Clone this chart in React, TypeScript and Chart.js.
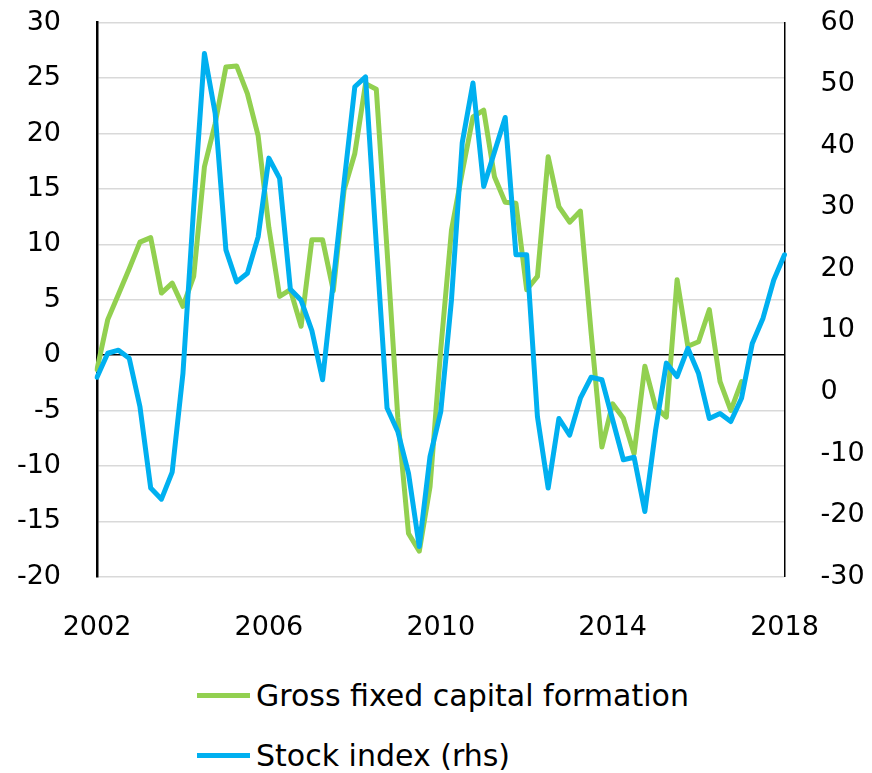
import React, { useEffect, useRef } from "react";
import { Chart, registerables } from "chart.js";

Chart.register(...registerables);

const startYear = 2002;
const quarterCount = 65;
const xTickYears = ["2002", "2006", "2010", "2014", "2018"];

const gfcf = [
  -1.3, 3.2, 5.5, 7.8, 10.2, 10.6, 5.6, 6.5, 4.4, 7.1,
  17.0, 20.9, 26.0, 26.1, 23.6, 19.8, 11.5, 5.3, 5.9, 2.6,
  10.4, 10.4, 5.8, 14.9, 18.2, 24.5, 24.0, 9.5, -5.6, -16.1,
  -17.7, -11.9, 0.5, 11.3, 16.5, 21.5, 22.1, 16.1, 13.8, 13.7,
  5.9, 7.1, 17.9, 13.4, 12.0, 13.0, 2.0, -8.3, -4.4, -5.7,
  -8.9, -1.0, -4.7, -5.6, 6.8, 0.8, 1.2, 4.1, -2.4, -5.0,
  -2.4,
];

const stockIndex = [
  2.4, 6.3, 6.8, 5.5, -2.4, -15.6, -17.4, -13.0, 3, 30,
  55.0, 45.3, 23.1, 17.9, 19.3, 25.2, 38.0, 34.7, 16.7, 14.9,
  10, 2.0, 18, 34, 49.6, 51.2, 24, -2.6, -6.4, -13.2,
  -25.1, -10.5, -3.2, 15.0, 40.5, 50.2, 33.4, 39, 44.6, 22.3,
  22.3, -4.0, -15.6, -4.3, -7.0, -1.0, 2.4, 2.0, -4.5, -11.0,
  -10.6, -19.4, -6.2, 4.7, 2.5, 7.1, 3.0, -4.3, -3.5, -4.8,
  -1.0, 7.9, 12.0, 18.2, 22.3,
];

const seriesNames = ["Gross fixed capital formation", "Stock index (rhs)"];
const seriesColors = ["#92D050", "#00B0F0"];

const categories: string[] = [];
for (let i = 0; i < quarterCount; i++) {
  categories.push(`${startYear + Math.floor(i / 4)}Q${(i % 4) + 1}`);
}

const FONT = "'DejaVu Sans', 'Liberation Sans', Arial, sans-serif";
const W = 872;
const CH = 660;
const PLOT_LEFT = 97;
const PLOT_RIGHT = 784.5;
const PLOT_TOP = 22.7;
const PLOT_BOTTOM = 576.7;

export default function App() {
  const ref = useRef<HTMLCanvasElement | null>(null);

  useEffect(() => {
    if (!ref.current) return;
    const chart = new Chart(ref.current, {
      type: "line",
      data: {
        labels: categories,
        datasets: [
          {
            label: seriesNames[0],
            data: gfcf,
            borderColor: seriesColors[0],
            backgroundColor: seriesColors[0],
            borderWidth: 5,
            pointRadius: 0,
            tension: 0,
            fill: false,
            yAxisID: "y",
            order: 2,
            borderJoinStyle: "round",
            borderCapStyle: "round",
          },
          {
            label: seriesNames[1],
            data: stockIndex,
            borderColor: seriesColors[1],
            backgroundColor: seriesColors[1],
            borderWidth: 5,
            pointRadius: 0,
            tension: 0,
            fill: false,
            yAxisID: "y1",
            order: 1,
            borderJoinStyle: "round",
            borderCapStyle: "round",
          },
        ],
      },
      options: {
        responsive: false,
        animation: false,
        devicePixelRatio: 1,
        layout: { padding: { top: PLOT_TOP, left: 0, right: 0, bottom: 0 } },
        plugins: {
          legend: { display: false },
          tooltip: { enabled: false },
        },
        scales: {
          x: {
            type: "category",
            offset: false,
            grid: { display: false },
            border: { display: false },
            ticks: {
              autoSkip: false,
              maxRotation: 0,
              minRotation: 0,
              padding: 27,
              color: "#000",
              font: { family: FONT, size: 27 },
              callback: (_v: any, index: number) => {
                if (index % 16 === 0) return xTickYears[index / 16];
                return "";
              },
            },
            afterFit: (scale: any) => {
              scale.height = CH - PLOT_BOTTOM;
              scale.paddingLeft = 0;
              scale.paddingRight = 0;
            },
          },
          y: {
            position: "left",
            min: -20,
            max: 30,
            ticks: {
              stepSize: 5,
              padding: 36,
              color: "#000",
              font: { family: FONT, size: 27 },
            },
            grid: {
              drawTicks: false,
              tickLength: 0,
              color: (ctx: any) => (ctx.tick && ctx.tick.value === 0 ? "#000" : "#d9d9d9"),
              lineWidth: 1.6,
            },
            border: { display: true, color: "#000", width: 2.5 },
            afterFit: (scale: any) => {
              scale.width = PLOT_LEFT;
              scale.paddingTop = 0;
              scale.paddingBottom = 0;
            },
          },
          y1: {
            position: "right",
            min: -30,
            max: 60,
            ticks: {
              stepSize: 10,
              padding: 36,
              color: "#000",
              font: { family: FONT, size: 27 },
            },
            grid: { display: false, drawTicks: false, tickLength: 0 },
            border: { display: true, color: "#000", width: 1.5 },
            afterFit: (scale: any) => {
              scale.width = W - PLOT_RIGHT;
              scale.paddingTop = 0;
              scale.paddingBottom = 0;
            },
          },
        },
      },
    });
    return () => chart.destroy();
  }, []);

  const legendRow = (i: number, top: number) => (
    <div
      key={i}
      style={{
        position: "absolute",
        left: 197,
        top: top,
        height: 40,
        display: "flex",
        alignItems: "center",
        fontFamily: FONT,
        fontSize: 30,
        color: "#000",
        whiteSpace: "nowrap",
      }}
    >
      <span
        style={{
          display: "inline-block",
          width: 53,
          height: 5,
          background: seriesColors[i],
          marginRight: 6,
        }}
      />
      <span>{seriesNames[i]}</span>
    </div>
  );

  return (
    <div style={{ position: "absolute", left: 0, top: 0, width: W, height: 773, background: "#fff" }}>
      <canvas ref={ref} width={W} height={CH} style={{ display: "block", width: W, height: CH }} />
      {legendRow(0, 675)}
      {legendRow(1, 735)}
    </div>
  );
}
